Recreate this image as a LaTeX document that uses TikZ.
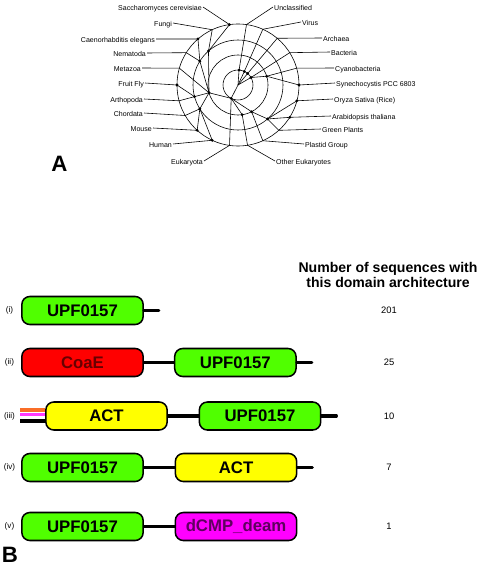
\documentclass[tikz,border=0pt]{standalone}
\usepackage{fontspec}
\setmainfont{Liberation Sans}
\usetikzlibrary{positioning}

\definecolor{upfgreen}{RGB}{80,255,0}
\definecolor{coaered}{RGB}{255,0,0}
\definecolor{coaetext}{RGB}{105,0,0}
\definecolor{actyellow}{RGB}{255,255,0}
\definecolor{deampink}{RGB}{255,0,255}
\definecolor{deamtext}{RGB}{95,0,95}
\definecolor{stuborange}{RGB}{250,110,40}
\definecolor{stubpink}{RGB}{255,60,255}

\begin{document}
\begin{tikzpicture}[
    x=0.03cm, y=-0.03cm,
    branch/.style={line width=0.5pt},
    knot/.style={circle, fill, inner sep=0pt, minimum size=2.6pt},
    taxon/.style={font=\fontsize{6}{7}\selectfont, inner sep=0.8pt},
    domainbox/.style={
        draw, line width=1.3pt,
        rounded corners=0.24cm,
        minimum width=3.64cm, minimum height=0.84cm,
        inner sep=0pt,
        font=\fontsize{14.3}{16}\selectfont\bfseries
    },
    upf/.style={domainbox, fill=upfgreen},
    coae/.style={domainbox, fill=coaered, text=coaetext},
    act/.style={domainbox, fill=actyellow},
    deam/.style={domainbox, fill=deampink, text=deamtext},
    linker/.style={line width=2.6pt},
    tailend/.style={line width=2.6pt, line cap=round},
    rowtag/.style={font=\fontsize{7}{8}\selectfont},
    count/.style={font=\fontsize{8}{9}\selectfont},
    panel/.style={font=\fontsize{19}{20}\selectfont\bfseries, inner sep=0pt}
]
\useasboundingbox (0,0) rectangle (479,566);

% A: taxonomy tree
\coordinate (c) at (238,85);
\foreach \r in {15,30,45,61}
    \draw[branch] (c) circle (\r);
\foreach \n/\a/\r in {u1/-86/15, v1/-65/15, a1/-50/15, b1/-30/15, e1/117/15,
        cy2/-17/30, me2/165/30, ot2/82/30, pl2/63/30,
        fu3/-131/45, ne3/-148/45, ar3/165/45, ch3/148/45, gr3/49/45,
        sac/-98/61, cel/-131/61, ffly/180/61, mou/132/61, hum/115/61,
        syn/0/61, ory/15/61, ara/32/61,
        unc/-82/61, vir/-66/61, arc/-50/61, bac/-32/61, cya/-16/61,
        fun/-115/61, nem/-148/61, met/-164/61, art/165/61, cho/150/61,
        euk/98/61, oth/81/61, pla/66/61, grp/48/61}
    \coordinate (\n) at ([shift={(\a:\r)}]c);
\foreach \p/\q in {c/u1, c/v1, c/a1, c/b1, c/e1,
        u1/unc, v1/vir, a1/arc, b1/bac, b1/cy2, cy2/cya, cy2/syn,
        e1/me2, e1/ot2, e1/pl2, e1/euk, ot2/oth, pl2/pla, pl2/gr3,
        gr3/grp, gr3/ory, gr3/ara,
        me2/fu3, fu3/fun, fu3/sac, me2/ne3, ne3/nem, ne3/cel, me2/met,
        me2/ar3, ar3/art, ar3/ffly, me2/ch3, ch3/cho, ch3/mou, ch3/hum}
    \draw[branch] (\p) -- (\q);
\foreach \n in {u1,v1,a1,b1,e1,cy2,me2,ot2,pl2,fu3,ne3,ar3,ch3,gr3,
        sac,cel,ffly,mou,hum,syn,ory,ara}
    \node[knot] at (\n) {};

\foreach \n/\x/\y/\t in {sac/203/7/Saccharomyces cerevisiae, fun/173/23/Fungi,
        cel/156/39/Caenorhabditis elegans, nem/147/53/Nematoda,
        met/142/68/Metazoa, ffly/145/83/Fruit Fly, art/144/99/Arthopoda,
        cho/144/113/Chordata, mou/153/128/Mouse, hum/173/144/Human,
        euk/204/161/Eukaryota}{
    \node[taxon, anchor=mid east] (l\n) at (\x,\y) {\t};
    \draw[branch] (l\n.mid east) -- (\n);
}
\foreach \n/\x/\y/\t in {unc/273/7/Unclassified, vir/301/22/Virus,
        arc/322/38/Archaea, bac/330/52/Bacteria, cya/334/68/Cyanobacteria,
        syn/335/83/Synechocystis PCC 6803, ory/333/99/Oryza Sativa (Rice),
        ara/331/116/Arabidopsis thaliana, grp/321/129/Green Plants,
        pla/304/144/Plastid Group, oth/275/161/Other Eukaryotes}{
    \node[taxon, anchor=mid west] (l\n) at (\x,\y) {\t};
    \draw[branch] (l\n.mid west) -- (\n);
}
\node[panel] (pa) at (59.5,163.5) {A};

% B: domain architectures
\node[font=\fontsize{12}{12.8}\selectfont\bfseries, align=center] (head)
    at (388,274.5) {Number of sequences with\\this domain architecture};

\node[rowtag] (ti) at (9.5,310.5) {(i)};
\node[upf] (upfi) at (82.5,310.5) {UPF0157};
\coordinate (endi) at ([xshift=0.45cm]upfi.east);
\draw[tailend] (upfi.east) -- (endi);
\node[count] (ni) at (389,310.5) {201};

\node[rowtag] (tii) at (9.5,362.5) {(ii)};
\node[coae] (coaeii) at (82.5,362.5) {CoaE};
\node[upf, right=0.9cm of coaeii] (upfii) {UPF0157};
\draw[linker] (coaeii.east) -- (upfii.west);
\coordinate (endii) at ([xshift=0.45cm]upfii.east);
\draw[tailend] (upfii.east) -- (endii);
\node[count] (nii) at (389,362.5) {25};

\node[rowtag] (tiii) at (9.5,416) {(iii)};
\node[act] (actiii) at (106.5,416) {ACT};
\node[upf, right=0.92cm of actiii] (upfiii) {UPF0157};
\draw[linker] (actiii.east) -- (upfiii.west);
\coordinate (endiii) at ([xshift=0.45cm]upfiii.east);
\draw[tailend] (upfiii.east) -- (endiii);
\coordinate (stuba) at (20,410);
\coordinate (stubb) at (20,414.5);
\coordinate (stubc) at (20,421);
\draw[line width=2.8pt, stuborange] (stuba) -- (stuba -| actiii.west);
\draw[line width=2.2pt, stubpink] (stubb) -- (stubb -| actiii.west);
\draw[line width=3pt] (stubc) -- (stubc -| actiii.west);
\node[count] (niii) at (389,416) {10};

\node[rowtag] (tiv) at (9.5,467.5) {(iv)};
\node[upf] (upfiv) at (82.5,467.5) {UPF0157};
\node[act, right=0.92cm of upfiv] (activ) {ACT};
\draw[linker] (upfiv.east) -- (activ.west);
\coordinate (endiv) at ([xshift=0.45cm]activ.east);
\draw[tailend] (activ.east) -- (endiv);
\node[count] (niv) at (389,467.5) {7};

\node[rowtag] (tv) at (9.5,526.5) {(v)};
\node[upf] (upfv) at (82.5,526.5) {UPF0157};
\node[deam, right=0.92cm of upfv] (deamv) {dCMP\_deam};
\draw[linker] (upfv.east) -- (deamv.west);
\node[count] (nv) at (389,526.5) {1};

\node[panel] (pb) at (10,554.5) {B};
\end{tikzpicture}
\end{document}
